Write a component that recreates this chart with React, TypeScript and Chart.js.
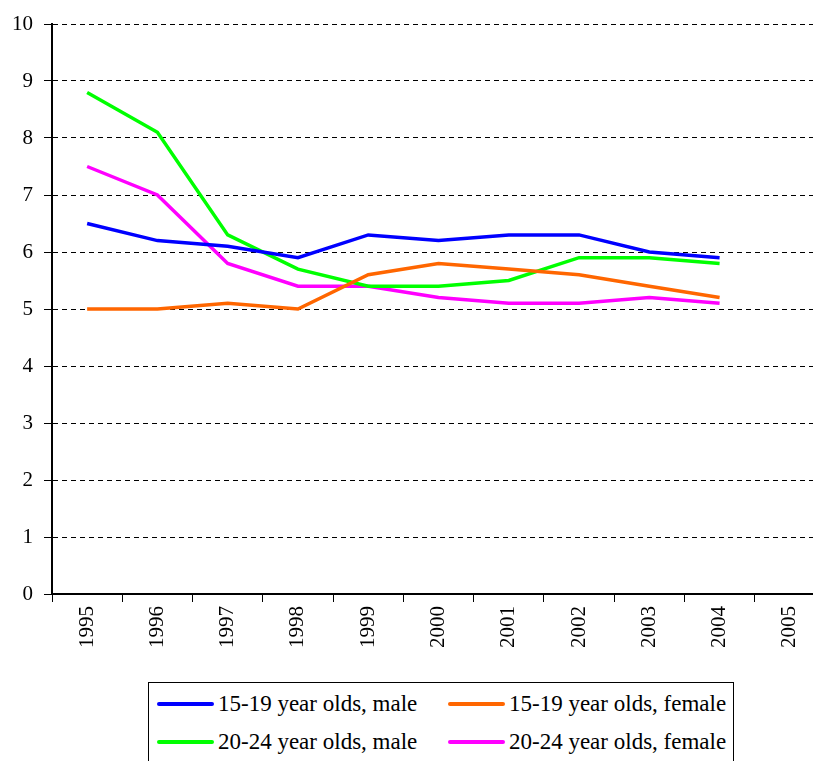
import React, { useEffect, useRef } from "react";
import { Chart, registerables } from "chart.js";

Chart.register(...registerables);

const years = ["1995", "1996", "1997", "1998", "1999", "2000", "2001", "2002", "2003", "2004", "2005"];
const male1519 = [6.5, 6.2, 6.1, 5.9, 6.3, 6.2, 6.3, 6.3, 6.0, 5.9, null];
const female1519 = [5.0, 5.0, 5.1, 5.0, 5.6, 5.8, 5.7, 5.6, 5.4, 5.2, null];
const male2024 = [8.8, 8.1, 6.3, 5.7, 5.4, 5.4, 5.5, 5.9, 5.9, 5.8, null];
const female2024 = [7.5, 7.0, 5.8, 5.4, 5.4, 5.2, 5.1, 5.1, 5.2, 5.1, null];

const seriesNames = [
  "15-19 year olds, male",
  "15-19 year olds, female",
  "20-24 year olds, male",
  "20-24 year olds, female",
];
const seriesColors = ["#0000FF", "#FF6600", "#00FF00", "#FF00FF"];

const FONT = "'Liberation Serif', 'Times New Roman', serif";

export default function App() {
  const ref = useRef<HTMLCanvasElement | null>(null);

  useEffect(() => {
    if (!ref.current) return;
    const data = [male1519, female1519, male2024, female2024];
    const chart = new Chart(ref.current, {
      type: "line",
      data: {
        labels: years,
        datasets: data.map((d, i) => ({
          label: seriesNames[i],
          data: d,
          borderColor: seriesColors[i],
          backgroundColor: seriesColors[i],
          borderWidth: 3.5,
          pointRadius: 0,
          tension: 0,
          fill: false,
        })),
      },
      options: {
        responsive: false,
        animation: false,
        layout: { padding: { top: 24, right: 0, left: 0, bottom: 0 } },
        plugins: { legend: { display: false }, tooltip: { enabled: false } },
        scales: {
          x: {
            type: "category",
            offset: true,
            grid: {
              offset: true,
              drawOnChartArea: false,
              drawTicks: true,
              tickLength: 8,
              tickColor: "#000",
              tickWidth: 1,
            },
            border: { display: true, color: "#000", width: 2 },
            ticks: {
              minRotation: 90,
              maxRotation: 90,
              autoSkip: false,
              padding: 4,
              color: "#000",
              font: { family: FONT, size: 21 },
            },
            afterFit: (s: any) => {
              s.height = 86;
            },
          },
          y: {
            min: 0,
            max: 10,
            ticks: {
              stepSize: 1,
              padding: 11,
              color: "#000",
              font: { family: FONT, size: 21 },
            },
            grid: {
              color: "#000",
              lineWidth: 1,
              drawTicks: true,
              tickLength: 8,
              tickColor: "#000",
              tickBorderDash: [],
            },
            border: { display: true, color: "#000", width: 2, dash: [5, 4] },
            afterFit: (s: any) => {
              s.width = 52;
            },
          },
        },
      },
    });
    return () => chart.destroy();
  }, []);

  return (
    <div
      style={{
        position: "absolute",
        left: 0,
        top: 0,
        width: 813,
        height: 761,
        overflow: "hidden",
        background: "#fff",
      }}
    >
      <canvas ref={ref} width={825} height={680} style={{ position: "absolute", left: 0, top: 0 }} />
      <div
        style={{
          position: "absolute",
          left: 148,
          top: 682,
          width: 584,
          height: 100,
          border: "1px solid #000",
          fontFamily: FONT,
          fontSize: 23,
          color: "#000",
        }}
      >
        {seriesNames.map((name, i) => {
          const col = i % 2;
          const row = Math.floor(i / 2);
          return (
            <div
              key={name}
              style={{
                position: "absolute",
                left: col === 0 ? 8 : 299,
                top: row === 0 ? 8 : 46,
                height: 26,
                display: "flex",
                alignItems: "center",
                whiteSpace: "nowrap",
              }}
            >
              <span
                style={{
                  display: "inline-block",
                  width: 57,
                  height: 4,
                  background: seriesColors[i],
                  borderRadius: 2,
                  marginRight: 4,
                }}
              />
              <span style={{ lineHeight: "26px" }}>{name}</span>
            </div>
          );
        })}
      </div>
    </div>
  );
}
